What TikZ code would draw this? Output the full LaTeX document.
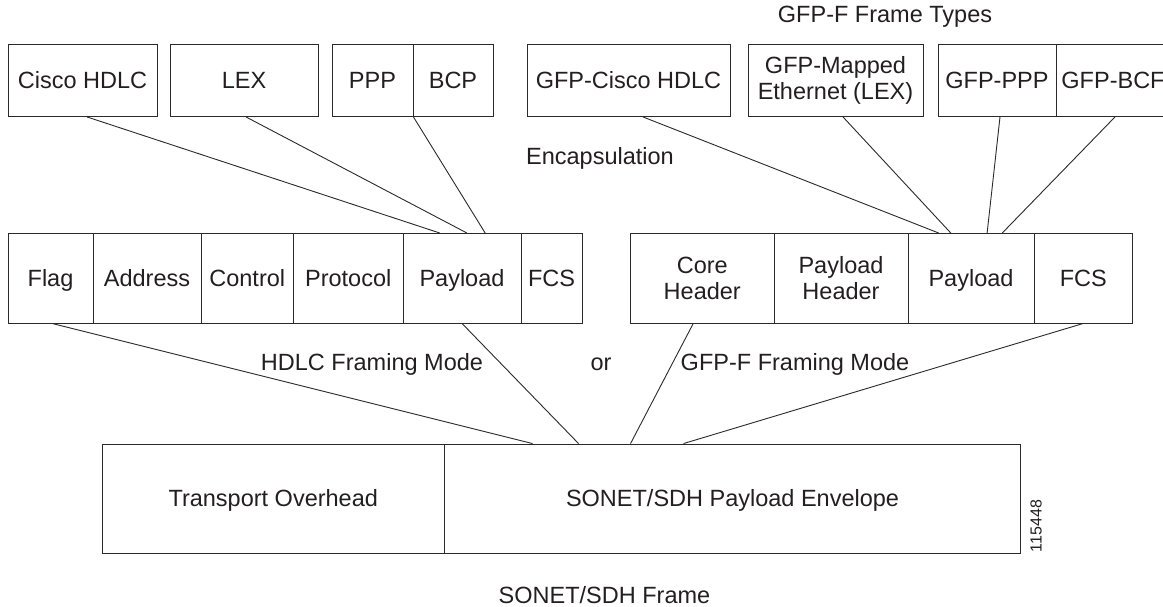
\documentclass[tikz,border=0pt]{standalone}
\usepackage{fontspec}
\setmainfont{Liberation Sans}
\usetikzlibrary{calc}
\definecolor{linec}{HTML}{2A2A2A}
\definecolor{textc}{HTML}{231F20}
\begin{document}
\begin{tikzpicture}[x=1pt,y=-1pt,
  box/.style={draw=linec, line width=0.9pt, inner sep=0pt, text=textc,
    font=\fontsize{23.5}{26.5}\selectfont, align=center},
  cell/.style={box, text height=16.8pt, text depth=0pt},
  lbl/.style={inner sep=0pt, text=textc, font=\fontsize{23.5}{26.5}\selectfont},
  conn/.style={draw=linec, line width=0.9pt}]
\useasboundingbox[fill=white] (0,0) rectangle (1163,607);

% top row: encapsulations
\node[cell, minimum width=149, minimum height=72.5] (cisco) at (82.5,80.25) {Cisco HDLC};
\node[cell, minimum width=148, minimum height=72.5] (lex) at (244,80.25) {LEX};
\node[cell, minimum width=81, minimum height=72.5] (ppp) at (372.5,80.25) {PPP};
\node[cell, minimum width=80, minimum height=72.5] (bcp) at (453,80.25) {BCP};
\node[cell, minimum width=203, minimum height=72.5] (gcisco) at (628.5,80.25) {GFP-Cisco HDLC};
\node[box, minimum width=175, minimum height=72.5] (gmap) at (835.5,80.25) {GFP-Mapped\\Ethernet (LEX)};
\node[cell, minimum width=118, minimum height=72.5] (gppp) at (997,80.25) {GFP-PPP};
\node[cell, minimum width=114, minimum height=72.5] (gbcp) at (1113,80.25) {GFP-BCF};
\node[lbl] (types) at (885,17) {GFP-F Frame Types};
\node[lbl] (encap) at (600,158) {Encapsulation};

% HDLC framing row
\node[cell, minimum width=85, minimum height=89.5] (flag) at (50.5,278.25) {Flag};
\node[cell, minimum width=108, minimum height=89.5] (addr) at (147,278.25) {Address};
\node[cell, minimum width=92.5, minimum height=89.5] (ctrl) at (247.25,278.25) {Control};
\node[cell, minimum width=109.5, minimum height=89.5] (prot) at (348.25,278.25) {Protocol};
\node[cell, minimum width=118, minimum height=89.5] (hpay) at (462,278.25) {Payload};
\node[cell, minimum width=61, minimum height=89.5] (hfcs) at (551.5,278.25) {FCS};

% GFP-F framing row
\node[box, minimum width=143.5, minimum height=89.5] (core) at (702.25,278.25) {Core\\Header};
\node[box, minimum width=134, minimum height=89.5] (phdr) at (841,278.25) {Payload\\Header};
\node[cell, minimum width=126, minimum height=89.5] (gpay) at (971,278.25) {Payload};
\node[cell, minimum width=98.5, minimum height=89.5] (gfcs) at (1083.25,278.25) {FCS};

\node[lbl] (hmode) at (372,364) {HDLC Framing Mode};
\node[lbl] (or) at (601,364) {or};
\node[lbl] (gmode) at (795,364) {GFP-F Framing Mode};

% SONET/SDH frame
\node[cell, minimum width=342.5, minimum height=109] (toh) at (273.25,498.5) {Transport Overhead};
\node[cell, minimum width=576.1, minimum height=109] (spe) at (732.55,498.5) {SONET/SDH Payload Envelope};
\node[lbl] (frame) at (604.5,595) {SONET/SDH Frame};
\node[inner sep=0pt, text=textc, font=\fontsize{16}{18}\selectfont, rotate=90] (fig) at (1036,526) {115448};

% encapsulation connectors
\draw[conn] ($(cisco.south)+(4.5,0)$) -- ($(hpay.north west)!0.314!(hpay.north east)$);
\draw[conn] ($(lex.south)+(2,0)$) -- ($(hpay.north west)!0.542!(hpay.north east)$);
\draw[conn] (ppp.south east) -- ($(hpay.north west)!0.695!(hpay.north east)$);
\draw[conn] ($(gcisco.south)+(14.5,0)$) -- ($(gpay.north west)!0.246!(gpay.north east)$);
\draw[conn] ($(gmap.south)+(7.5,0)$) -- ($(gpay.north west)!0.341!(gpay.north east)$);
\draw[conn] ($(gppp.south)+(3,0)$) -- ($(gpay.north west)!0.627!(gpay.north east)$);
\draw[conn] ($(gbcp.south)+(2,0)$) -- ($(gpay.north west)!0.746!(gpay.north east)$);

% framing connectors
\draw[conn] ($(flag.south)+(1.5,0)$) -- ($(spe.north west)+(88.5,0)$);
\draw[conn] (hpay.south) -- ($(spe.north west)+(134.5,0)$);
\draw[conn] ($(core.south)+(-9,0)$) -- ($(spe.north west)+(186.5,0)$);
\draw[conn] (gfcs.south) -- ($(spe.north west)+(239.5,0)$);
\end{tikzpicture}
\end{document}
